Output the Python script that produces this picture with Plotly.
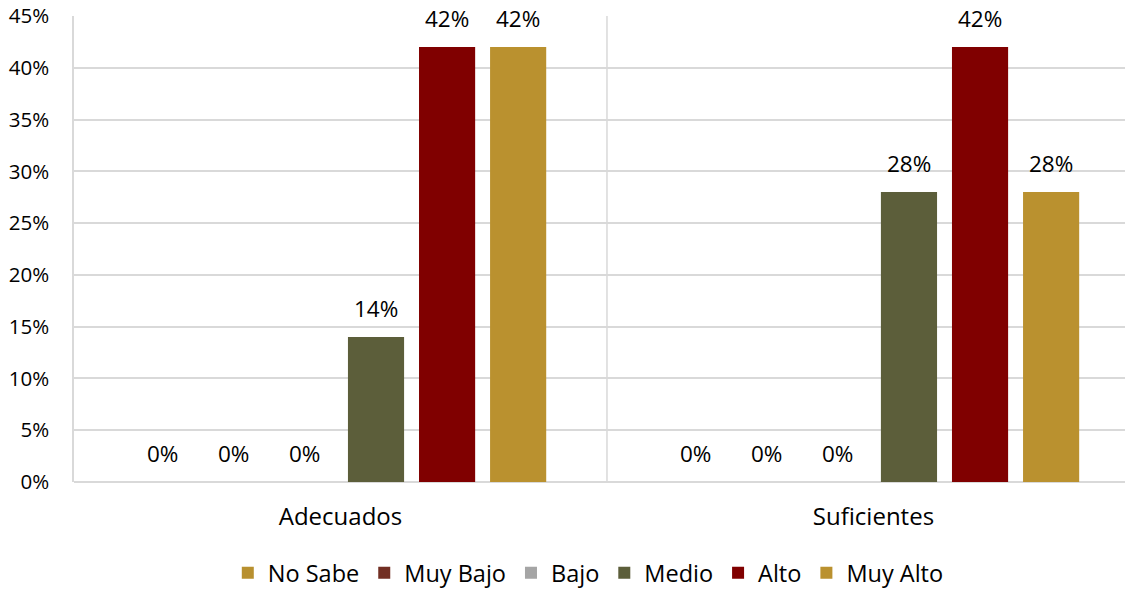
import plotly.graph_objects as go

categories = ["Adecuados", "Suficientes"]
series_names = ["No Sabe", "Muy Bajo", "Bajo", "Medio", "Alto", "Muy Alto"]
values = {
    "No Sabe": [0, 0],
    "Muy Bajo": [0, 0],
    "Bajo": [0, 0],
    "Medio": [14, 28],
    "Alto": [42, 42],
    "Muy Alto": [42, 28],
}
colors = {
    "No Sabe": "#B8902F",
    "Muy Bajo": "#722F23",
    "Bajo": "#A5A5A5",
    "Medio": "#5C5E3A",
    "Alto": "#800000",
    "Muy Alto": "#BA912F",
}
y_ticks = [0, 5, 10, 15, 20, 25, 30, 35, 40, 45]

font_family = "'Open Sans', sans-serif"
BARGAP = 0.2
n = len(series_names)

fig = go.Figure()
for name in series_names:
    fig.add_trace(go.Bar(
        name=name,
        x=categories,
        y=values[name],
        marker=dict(color=colors[name], line=dict(width=0)),
        textposition="none",
    ))

# data labels placed at each bar's position within its group
slot = (1 - BARGAP) / n
for i, name in enumerate(series_names):
    for ci, cat in enumerate(categories):
        v = values[name][ci]
        fig.add_annotation(
            x=ci + (i - (n - 1) / 2) * slot, y=v, xref="x", yref="y",
            text=f"{v:.0f}%", showarrow=False, yanchor="bottom",
            yshift=11, font=dict(size=22.5, color="#000000", family=font_family),
        )

fig.add_shape(type="line", xref="x", yref="y", x0=0.5, x1=0.5, y0=0, y1=45,
              line=dict(color="#D9D9D9", width=1.5), layer="below")

fig.update_layout(
    width=1133, height=590,
    margin=dict(l=66, r=0, t=8, b=116, autoexpand=False),
    paper_bgcolor="white", plot_bgcolor="white",
    barmode="group", bargap=BARGAP, bargroupgap=0.21,
    font=dict(family=font_family, size=20, color="#000000"),
    showlegend=True,
    legend=dict(orientation="h", x=0.482, xanchor="center", y=-0.195, yanchor="middle",
                font=dict(size=23.5, family=font_family), itemwidth=30,
                traceorder="normal"),
)
fig.update_xaxes(
    type="category", range=[-0.5, 1.502], automargin=False,
    showgrid=False, showline=False, ticks="",
    tickfont=dict(size=24, family=font_family), ticklabelstandoff=18,
)
fig.update_yaxes(
    range=[0, 45], tickvals=y_ticks, ticktext=[f"{v}%" for v in y_ticks],
    automargin=False, ticklabeloverflow="allow",
    showgrid=True, gridcolor="#D9D9D9", gridwidth=1.5,
    zeroline=True, zerolinecolor="#D9D9D9", zerolinewidth=1.5,
    showline=True, linecolor="#D9D9D9", linewidth=1.5,
    ticks="", tickfont=dict(size=20.5, family=font_family), ticklabelstandoff=19,
)

fig.write_html("out.html")
